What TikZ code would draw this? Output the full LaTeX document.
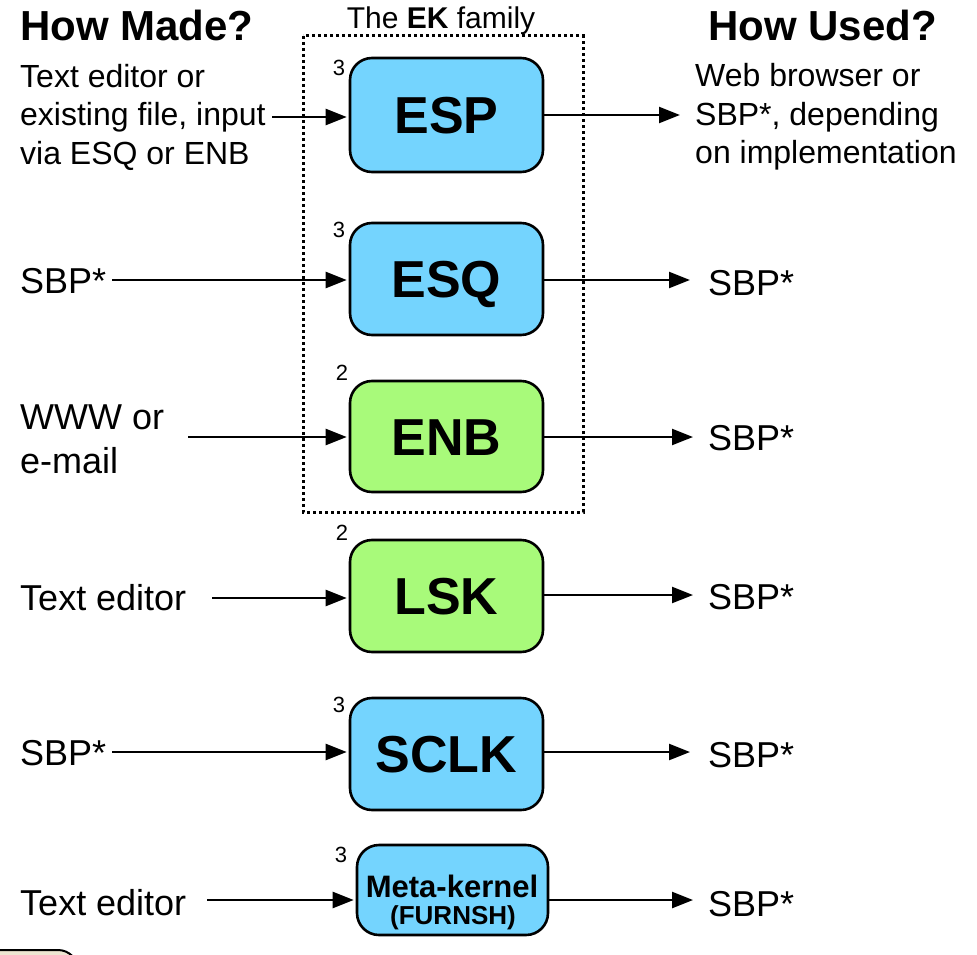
\documentclass[tikz,border=0pt]{standalone}
\usepackage{fontspec}
\setmainfont{Liberation Sans}
\usetikzlibrary{arrows.meta}
\definecolor{kblue}{HTML}{74D4FE}
\definecolor{kgreen}{HTML}{A8FA7A}
\definecolor{kbeige}{HTML}{EEE6D2}
\begin{document}
\begin{tikzpicture}[x=1pt,y=-1pt,
  kbox/.style={draw=black,line width=2.6pt,rounded corners=22pt,minimum width=193pt,minimum height=112pt,inner sep=0pt,text height=37pt,text depth=0pt,font=\fontsize{52}{60}\selectfont\bfseries},
  lbl/.style={anchor=west,inner sep=0pt,align=left,font=\fontsize{36}{44}\selectfont},
  slbl/.style={anchor=west,inner sep=0pt,align=left,font=\fontsize{32}{38.5}\selectfont},
  hdr/.style={anchor=west,inner sep=0pt,font=\fontsize{42}{48}\selectfont\bfseries},
  num/.style={inner sep=0pt,font=\fontsize{22}{26}\selectfont},
  arr/.style={line width=2.4pt,-{Triangle[length=21pt,width=16pt]},shorten >=2pt}]
\useasboundingbox (0,0) rectangle (977,955);

% partial shape bottom-left
\begin{scope}
\clip (0,0) rectangle (977,955);
\draw[fill=kbeige,line width=2pt,rounded corners=20pt] (-20,950) rectangle (78,1010);
\end{scope}

% headers
\node[hdr] (hmade) at (20,25) {How Made?};
\node[hdr] (hused) at (708,25) {How Used?};
\node[inner sep=0pt,font=\fontsize{30}{36}\selectfont] (fam) at (441,21) {The \textbf{EK} family};

% dotted family frame
\draw[line width=3pt,dash pattern=on 3pt off 3pt] (303,36) rectangle (583,512);

% kernel boxes
\node[kbox,fill=kblue,minimum height=114pt] (esp) at (446.5,115) {ESP};
\node[kbox,fill=kblue] (esq) at (446.5,279) {ESQ};
\node[kbox,fill=kgreen,minimum height=111pt] (enb) at (446.5,436.5) {ENB};
\node[kbox,fill=kgreen] (lsk) at (446.5,596) {LSK};
\node[kbox,fill=kblue] (sclk) at (446.5,754) {SCLK};
\node[draw=black,line width=2.6pt,rounded corners=22pt,fill=kblue,minimum width=191pt,minimum height=90pt,inner sep=0pt] (meta) at (452.5,890) {};
\node[inner sep=0pt,font=\fontsize{31}{36}\selectfont\bfseries] (metat) at (452,886) {Meta-kernel};
\node[inner sep=0pt,font=\fontsize{26}{30}\selectfont\bfseries] (metaf) at (453,918) {(FURNSH)};

% small numbers
\node[num] (n1) at (339,68) {3};
\node[num] (n2) at (339,230) {3};
\node[num] (n3) at (342,373) {2};
\node[num] (n4) at (342,533) {2};
\node[num] (n5) at (339,705) {3};
\node[num] (n6) at (341,855) {3};

% left labels
\node[slbl] (l1) at (20,117) {Text editor or\\existing file, input\\via ESQ or ENB};
\node[lbl] (l2) at (20,281) {SBP*};
\node[lbl] (l3) at (20,439) {WWW or\\e-mail};
\node[lbl] (l4) at (20,598) {Text editor};
\node[lbl] (l5) at (20,753) {SBP*};
\node[lbl] (l6) at (20,903) {Text editor};

% right labels
\node[slbl] (r1) at (695,117) {Web browser or\\SBP*, depending\\on implementation};
\node[lbl] (r2) at (708,283) {SBP*};
\node[lbl] (r3) at (708,438) {SBP*};
\node[lbl] (r4) at (708,597) {SBP*};
\node[lbl] (r5) at (708,755) {SBP*};
\node[lbl] (r6) at (708,904) {SBP*};

% left arrow starts
\coordinate (a1) at (272,117);
\coordinate (a2) at (112,280);
\coordinate (a3) at (188,437);
\coordinate (a4) at (212,598);
\coordinate (a5) at (112,752);
\coordinate (a6) at (207,900);
\draw[arr] (a1) -- (a1 -| esp.west);
\draw[arr] (a2) -- (a2 -| esq.west);
\draw[arr] (a3) -- (a3 -| enb.west);
\draw[arr] (a4) -- (a4 -| lsk.west);
\draw[arr] (a5) -- (a5 -| sclk.west);
\draw[arr] (a6) -- (a6 -| meta.west);

% right arrow ends
\coordinate (b1) at (682,115);
\coordinate (b2) at (692,280);
\coordinate (b3) at (695,437);
\coordinate (b4) at (695,595);
\coordinate (b5) at (692,752);
\coordinate (b6) at (695,900);
\draw[arr] (esp.east |- b1) -- (b1);
\draw[arr] (esq.east |- b2) -- (b2);
\draw[arr] (enb.east |- b3) -- (b3);
\draw[arr] (lsk.east |- b4) -- (b4);
\draw[arr] (sclk.east |- b5) -- (b5);
\draw[arr] (meta.east |- b6) -- (b6);
\end{tikzpicture}
\end{document}
